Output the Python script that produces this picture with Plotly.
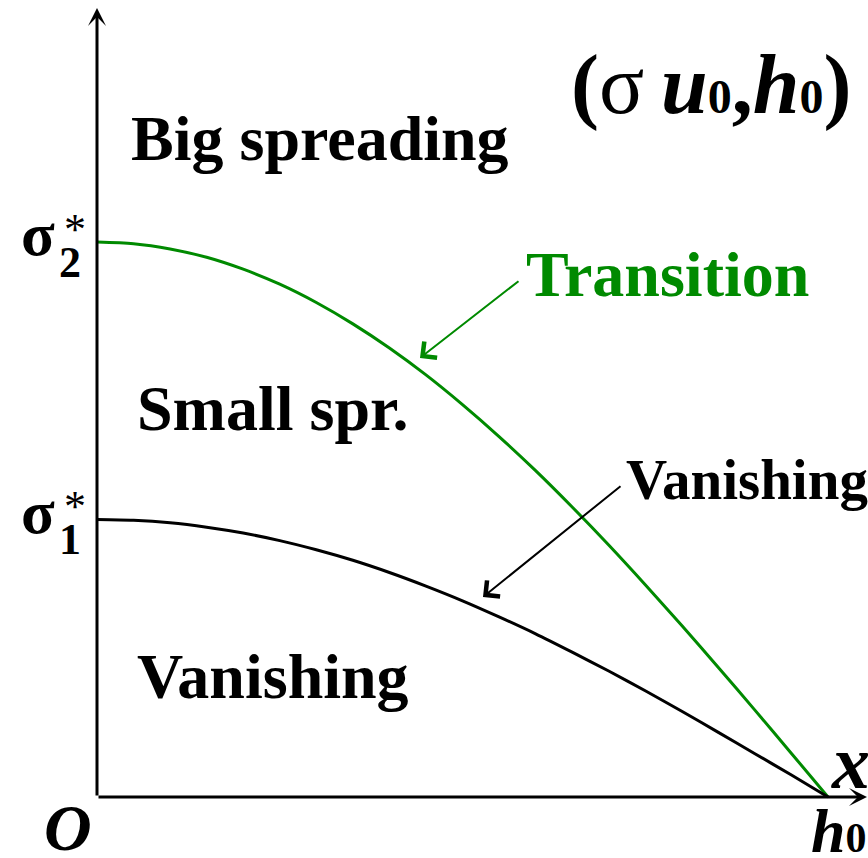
import plotly.graph_objects as go

# ---- data (x in units of h0, y in units of sigma1*) ----
x_vals = [0.00, 0.05, 0.10, 0.15, 0.20, 0.25, 0.30, 0.35, 0.40, 0.45, 0.50,
          0.55, 0.60, 0.65, 0.70, 0.75, 0.80, 0.85, 0.90, 0.95, 1.00]
vanishing_curve = [1.000, 0.997, 0.988, 0.972, 0.951, 0.924, 0.891, 0.853, 0.809, 0.760, 0.707,
                   0.649, 0.588, 0.522, 0.454, 0.383, 0.309, 0.233, 0.156, 0.079, 0.000]
transition_curve = [2.000, 1.994, 1.975, 1.945, 1.902, 1.848, 1.782, 1.705, 1.618, 1.521, 1.414,
                    1.299, 1.176, 1.045, 0.908, 0.765, 0.618, 0.467, 0.313, 0.157, 0.000]
sigma_tick_vals = [1.0, 2.0]
sigma_tick_subs = ["1", "2"]
h0_val = 1.0

W, H = 868, 858
X0, XS = 97, 731.0    # pixel of x=0, pixels per unit
Y0, YS = 797, 277.5   # pixel of y=0, pixels per unit


def dx(px):
    return (px - X0) / XS


def dy(py):
    return (Y0 - py) / YS


GREEN = "#008a00"
SERIF = "Liberation Serif, Times New Roman, serif"

fig = go.Figure()
fig.add_trace(go.Scatter(x=x_vals, y=transition_curve, mode="lines",
                         line=dict(color=GREEN, width=3, shape="spline", smoothing=0.8),
                         hoverinfo="skip"))
fig.add_trace(go.Scatter(x=x_vals, y=vanishing_curve, mode="lines",
                         line=dict(color="black", width=3, shape="spline", smoothing=0.8),
                         hoverinfo="skip"))

ann = []


def arrow(tail, tip, color, width, head, size):
    ann.append(dict(x=tip[0], y=tip[1], ax=tail[0], ay=tail[1],
                    xref="x", yref="y", axref="x", ayref="y", text="",
                    showarrow=True, arrowcolor=color, arrowwidth=width,
                    arrowhead=head, arrowsize=size, standoff=0, startstandoff=0))


def text(s, px, py, size, color="black", xanchor="center", yanchor="middle"):
    ann.append(dict(x=dx(px), y=dy(py), xref="x", yref="y", text=s,
                    showarrow=False, xanchor=xanchor, yanchor=yanchor,
                    font=dict(family=SERIF, size=size, color=color)))


def small(s, size):
    return '<span style="font-size:%dpx">%s</span>' % (size, s)


# axes with arrowheads
arrow((0, 0), (0, dy(8)), "black", 3, 3, 1.0)
arrow((0, 0), (dx(867), 0), "black", 3, 3, 1.0)

# annotation arrows
arrow((dx(520), dy(280)), (dx(420), dy(358)), GREEN, 2, 4, 2)
arrow((dx(622), dy(485)), (dx(483), dy(597)), "black", 2, 4, 2)

# sigma tick labels
for v, s in zip(sigma_tick_vals, sigma_tick_subs):
    py = Y0 - v * YS
    text("<b>σ</b>", 38, py - 8, 62)
    text("<b>%s</b>" % s, 70, py + 20, 44)
    text("*", 75, py - 13, 44)

# origin and h0, x labels
text("<b><i>O</i></b>", 68, 827, 66)
text("<b><i>h</i></b>" + small("<b>0</b>", 42), X0 + h0_val * XS + 10, 831, 62)
text("<b><i>x</i></b>", 850, 762, 76)

# title
text("<b>(</b>σ\u2009<b><i>u</i></b>" + small("<b>0</b>", 48) + "<b>,</b><b><i>h</i></b>"
     + small("<b>0</b>", 48) + "<b>)</b>", 711, 85, 84)

# region labels
text("<b>Big spreading</b>", 320, 138, 64)
text("<b>Small spr.</b>", 273, 408, 64)
text("<b>Vanishing</b>", 273, 676, 64)
text("<b>Transition</b>", 667, 274, 64, color=GREEN)
text("<b>Vanishing</b>", 747, 479, 57)

fig.update_layout(
    width=W, height=H, autosize=False,
    margin=dict(l=0, r=0, t=0, b=0),
    paper_bgcolor="white", plot_bgcolor="white",
    showlegend=False,
    xaxis=dict(visible=False, range=[dx(0), dx(W)], fixedrange=True),
    yaxis=dict(visible=False, range=[dy(H), dy(0)], fixedrange=True),
    annotations=ann,
)
fig.write_html("out.html")
